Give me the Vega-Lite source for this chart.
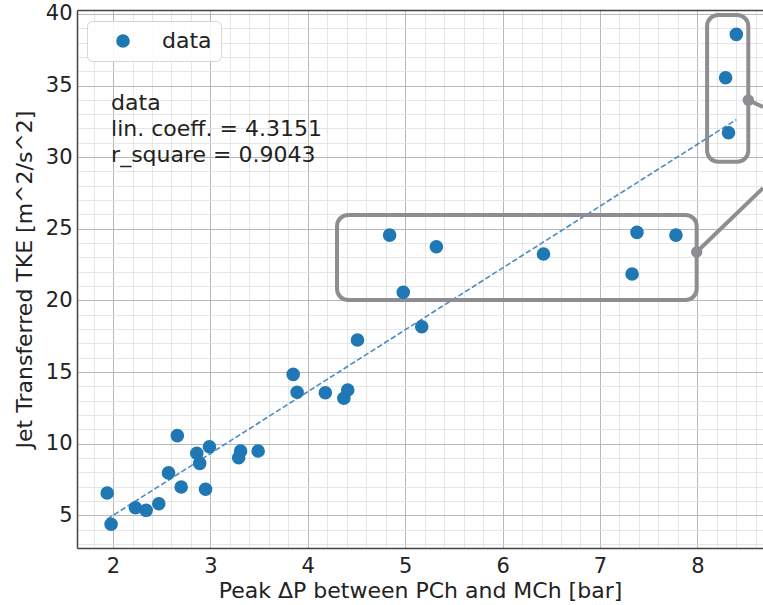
{
  "$schema": "https://vega.github.io/schema/vega-lite/v6.json",
  "width": 686,
  "height": 538,
  "autosize": {"type": "none"},
  "padding": {"left": 77, "top": 10, "right": 0, "bottom": 57},
  "background": "white",
  "config": {
    "view": {"stroke": null},
    "font": "DejaVu Sans",
    "axis": {
      "labelFont": "DejaVu Sans",
      "titleFont": "DejaVu Sans",
      "labelFontSize": 21,
      "titleFontSize": 22,
      "titleFontWeight": "normal",
      "labelColor": "#222222",
      "titleColor": "#222222",
      "domainColor": "#444444",
      "domainWidth": 1.5
    },
    "legend": {
      "labelFont": "DejaVu Sans",
      "labelFontSize": 22,
      "labelColor": "#222222"
    }
  },
  "datasets": {
    "pts": [
      {"dp": 1.94, "tke": 6.56}, {"dp": 1.98, "tke": 4.38}, {"dp": 2.23, "tke": 5.53},
      {"dp": 2.34, "tke": 5.35}, {"dp": 2.47, "tke": 5.81}, {"dp": 2.57, "tke": 7.96},
      {"dp": 2.66, "tke": 10.56}, {"dp": 2.70, "tke": 6.98}, {"dp": 2.86, "tke": 9.33},
      {"dp": 2.89, "tke": 8.63}, {"dp": 2.95, "tke": 6.82}, {"dp": 2.99, "tke": 9.79},
      {"dp": 3.29, "tke": 9.02}, {"dp": 3.31, "tke": 9.49}, {"dp": 3.49, "tke": 9.49},
      {"dp": 3.85, "tke": 14.84}, {"dp": 3.89, "tke": 13.59}, {"dp": 4.18, "tke": 13.56},
      {"dp": 4.37, "tke": 13.17}, {"dp": 4.41, "tke": 13.75}, {"dp": 4.51, "tke": 17.24},
      {"dp": 5.17, "tke": 18.16}, {"dp": 4.84, "tke": 24.56}, {"dp": 4.98, "tke": 20.57},
      {"dp": 5.32, "tke": 23.75}, {"dp": 6.42, "tke": 23.24}, {"dp": 7.38, "tke": 24.75},
      {"dp": 7.33, "tke": 21.84}, {"dp": 7.78, "tke": 24.56}, {"dp": 8.40, "tke": 38.57},
      {"dp": 8.29, "tke": 35.54}, {"dp": 8.32, "tke": 31.70}
    ],
    "fit": [{"dp": 1.94, "tke": 4.74}, {"dp": 8.40, "tke": 32.62}],
    "boxes": [
      {"x1": 4.30, "x2": 7.993, "y1": 20.03, "y2": 25.96},
      {"x1": 8.10, "x2": 8.523, "y1": 29.68, "y2": 39.92}
    ],
    "links": [
      {"x1": 7.993, "y1": 23.38, "x2": 8.674, "y2": 27.84},
      {"x1": 8.523, "y1": 33.98, "x2": 8.674, "y2": 33.50}
    ],
    "notes": [
      {"x": 1.98, "y": 33.29, "t": "data"},
      {"x": 1.98, "y": 31.47, "t": "lin. coeff. = 4.3151"},
      {"x": 1.98, "y": 29.66, "t": "r_square = 0.9043"}
    ]
  },
  "resolve": {"axis": {"x": "independent", "y": "independent"}},
  "layer": [
    {
      "data": {"name": "fit"},
      "mark": {"type": "line", "stroke": "#4a8cc2", "strokeWidth": 1.6, "strokeDash": [5.5, 2.5]},
      "encoding": {
        "x": {
          "field": "dp", "type": "quantitative",
          "scale": {"domain": [1.63, 8.674], "nice": false, "zero": false},
          "axis": {
            "orient": "top", "title": null, "labels": false, "ticks": false,
            "domain": true, "domainColor": "#444444", "domainWidth": 1.5,
            "grid": true, "gridColor": "#e0e0e0", "gridWidth": 0.8,
            "values": [1.8, 2.2, 2.4, 2.6, 2.8, 3.2, 3.4, 3.6, 3.8, 4.2, 4.4, 4.6, 4.8, 5.2, 5.4, 5.6, 5.8, 6.2, 6.4, 6.6, 6.8, 7.2, 7.4, 7.6, 7.8, 8.2, 8.4, 8.6]
          }
        },
        "y": {
          "field": "tke", "type": "quantitative",
          "scale": {"domain": [2.72, 40.27], "nice": false, "zero": false},
          "axis": {
            "orient": "right", "title": null, "labels": false, "ticks": false,
            "domain": false,
            "grid": true, "gridColor": "#e0e0e0", "gridWidth": 0.8,
            "values": [3, 4, 6, 7, 8, 9, 11, 12, 13, 14, 16, 17, 18, 19, 21, 22, 23, 24, 26, 27, 28, 29, 31, 32, 33, 34, 36, 37, 38, 39]
          }
        }
      }
    },
    {
      "data": {"name": "boxes"},
      "mark": {"type": "rect", "filled": false, "stroke": "#8e8e92", "strokeWidth": 4, "cornerRadius": 11},
      "encoding": {
        "x": {"field": "x1", "type": "quantitative", "axis": null},
        "x2": {"field": "x2"},
        "y": {"field": "y1", "type": "quantitative", "axis": null},
        "y2": {"field": "y2"}
      }
    },
    {
      "data": {"name": "links"},
      "mark": {"type": "rule", "stroke": "#8e8e92", "strokeWidth": 4},
      "encoding": {
        "x": {"field": "x1", "type": "quantitative", "axis": null},
        "x2": {"field": "x2"},
        "y": {"field": "y1", "type": "quantitative", "axis": null},
        "y2": {"field": "y2"}
      }
    },
    {
      "data": {"name": "links"},
      "mark": {"type": "point", "filled": true, "color": "#8e8e92", "opacity": 1, "size": 130},
      "encoding": {
        "x": {"field": "x1", "type": "quantitative", "axis": null},
        "y": {"field": "y1", "type": "quantitative", "axis": null}
      }
    },
    {
      "data": {"name": "pts"},
      "mark": {"type": "point", "filled": true, "opacity": 1, "size": 185},
      "encoding": {
        "x": {
          "field": "dp", "type": "quantitative",
          "title": "Peak ΔP between PCh and MCh [bar]",
          "axis": {
            "orient": "bottom", "values": [2, 3, 4, 5, 6, 7, 8], "format": "d",
            "grid": true, "gridColor": "#b8b8b8", "gridWidth": 1,
            "ticks": false, "labelPadding": 7, "titlePadding": 4
          }
        },
        "y": {
          "field": "tke", "type": "quantitative",
          "title": "Jet Transferred TKE [m^2/s^2]",
          "axis": {
            "orient": "left", "values": [5, 10, 15, 20, 25, 30, 35, 40], "format": "d",
            "grid": true, "gridColor": "#b8b8b8", "gridWidth": 1,
            "ticks": false, "labelPadding": 5, "titlePadding": 9
          }
        },
        "color": {
          "datum": "data",
          "scale": {"range": ["#1f77b4"]},
          "legend": {
            "orient": "none", "legendX": 10, "legendY": 11, "title": null,
            "padding": 9, "symbolSize": 185, "symbolOffset": 16, "labelOffset": 28,
            "strokeColor": "#d6d6d6", "fillColor": "rgba(255,255,255,0.85)", "cornerRadius": 5,
            "symbolType": "circle"
          }
        }
      }
    },
    {
      "data": {"name": "notes"},
      "mark": {"type": "text", "align": "left", "baseline": "alphabetic", "fontSize": 22, "font": "DejaVu Sans", "color": "#222222"},
      "encoding": {
        "x": {"field": "x", "type": "quantitative", "axis": null},
        "y": {"field": "y", "type": "quantitative", "axis": null},
        "text": {"field": "t"}
      }
    }
  ]
}
